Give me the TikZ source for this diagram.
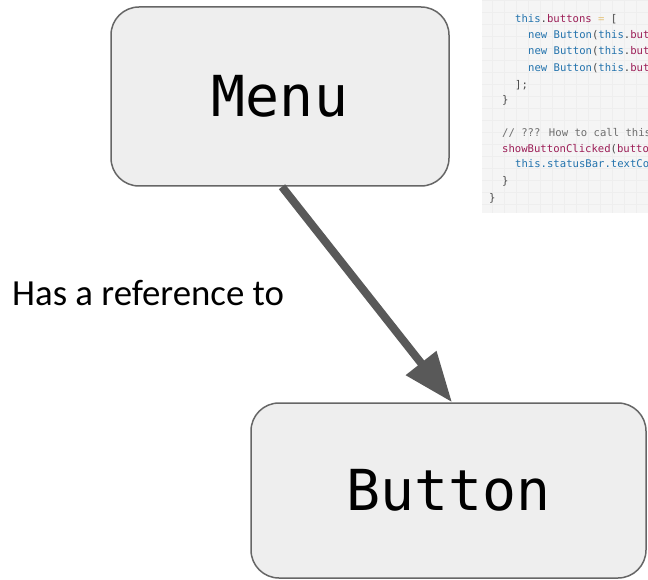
\documentclass[tikz,border=0pt]{standalone}
\usepackage{fontspec}
\setmainfont{Carlito}
\newfontfamily\boxmono{DejaVu Sans Mono}
\newfontfamily\codemono{DejaVu Sans Mono}
\usetikzlibrary{arrows.meta,calc}

\definecolor{boxfill}{HTML}{EEEEEE}
\definecolor{boxline}{HTML}{666666}
\definecolor{arrowgray}{HTML}{595959}
\definecolor{panelbg}{HTML}{F5F5F5}
\definecolor{panelgrid}{HTML}{EEEEEE}
\definecolor{kwblue}{HTML}{2373AD}
\definecolor{propred}{HTML}{9C1E57}
\definecolor{punct}{HTML}{4A4A4A}
\definecolor{cmtgray}{HTML}{6E6E6E}
\definecolor{optan}{HTML}{E3C27A}

\newcommand{\kw}[1]{\textcolor{kwblue}{#1}}
\newcommand{\pr}[1]{\textcolor{propred}{#1}}
\newcommand{\pu}[1]{\textcolor{punct}{#1}}

\tikzset{
  classbox/.style={draw=boxline, line width=1.5pt, fill=boxfill,
    rounded corners=28pt, inner sep=0pt,
    font=\boxmono\fontsize{56.5}{60}\selectfont},
  codeline/.style={anchor=base west, inner sep=0pt,
    font=\codemono\fontsize{10.6}{12}\selectfont},
  relarrow/.style={draw=arrowgray, line width=8pt,
    -{Triangle[length=50pt,width=37pt]}},
  relabel/.style={anchor=base west, inner sep=0pt,
    font=\fontsize{36.8}{42}\selectfont}
}

\begin{document}
\begin{tikzpicture}[x=1pt,y=-1pt]
\useasboundingbox (0,0) rectangle (648,580);

% code excerpt panel
\begin{scope}
  \clip (482,0) rectangle (648,213);
  \fill[panelbg] (482,0) rectangle (648,213);
  \draw[panelgrid, line width=0.4pt, step=12pt] (482,0) grid (660,213);
  \node[codeline] (c1) at (515,23) {\kw{this}\pu{.}\pr{buttons} \textcolor{optan}{=} \pu{[}};
  \node[codeline] (c2) at (528,39) {\kw{new Button}\pu{(}\kw{this}\pu{.}\pr{but}};
  \node[codeline] (c3) at (528,55) {\kw{new Button}\pu{(}\kw{this}\pu{.}\pr{but}};
  \node[codeline] (c4) at (528,72) {\kw{new Button}\pu{(}\kw{this}\pu{.}\pr{but}};
  \node[codeline] (c5) at (515,89) {\pu{];}};
  \node[codeline] (c6) at (502,104) {\pu{\}}};
  \node[codeline] (c7) at (502,137) {\textcolor{cmtgray}{// ??? How to call this}};
  \node[codeline] (c8) at (502,153) {\pr{showButtonClicked}\pu{(}\pr{butto}};
  \node[codeline] (c9) at (515,168) {\kw{this.statusBar.textCo}};
  \node[codeline] (c10) at (502,185) {\pu{\}}};
  \node[codeline] (c11) at (489,202) {\pu{\}}};
\end{scope}

% classes
\node[classbox, minimum width=338pt, minimum height=179pt] (menu) at (280,96.5) {Menu};
\node[classbox, minimum width=395pt, minimum height=175pt] (button) at (448.5,490.5) {Button};

% relation
\draw[relarrow] ([xshift=2pt]menu.south) -- ([xshift=3.5pt]button.north);
\node[relabel] (rel) at (12,305) {Has a reference to};
\end{tikzpicture}
\end{document}
